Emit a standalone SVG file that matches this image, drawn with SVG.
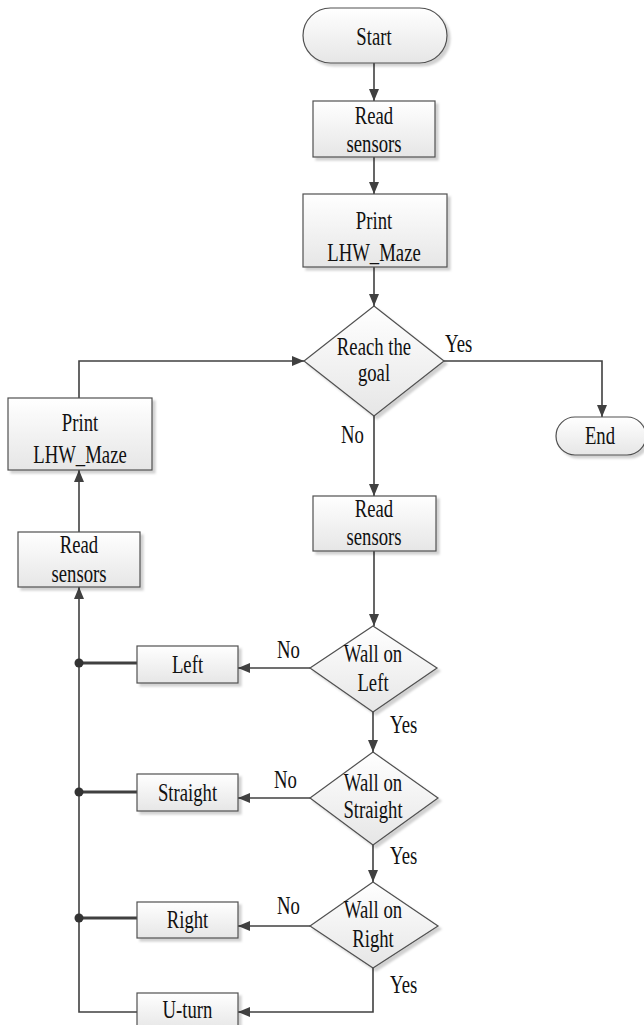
<svg xmlns="http://www.w3.org/2000/svg" width="644" height="1025" viewBox="0 0 644 1025">
<defs>
<linearGradient id="g" x1="0" y1="0" x2="0" y2="1">
<stop offset="0" stop-color="#ffffff"/>
<stop offset="1" stop-color="#e6e6e6"/>
</linearGradient>
<filter id="sh" x="-10%" y="-10%" width="130%" height="140%">
<feDropShadow dx="3" dy="3" stdDeviation="1.2" flood-color="#000" flood-opacity="0.18"/>
</filter>
<marker id="ah" markerUnits="userSpaceOnUse" markerWidth="13" markerHeight="10" refX="12" refY="5" orient="auto" viewBox="0 0 13 10">
<path d="M0,0 L12,5 L0,10 Z" fill="#404040"/>
</marker>
</defs>
<style>
.n{fill:url(#g);stroke:#505050;stroke-width:1.2;filter:url(#sh)}
.c{fill:none;stroke:#404040;stroke-width:1.6}
.a{marker-end:url(#ah)}
.t{font-family:"Liberation Serif","Times New Roman",serif;font-size:26px;fill:#111;text-anchor:middle}
.l{font-family:"Liberation Serif","Times New Roman",serif;font-size:26px;fill:#111;text-anchor:start}
.k{fill:none;stroke:#404040;stroke-width:3}
.d{fill:#333}
</style>

<g id="connectors">
<path class="c a" d="M374,63 V101"/>
<path class="c a" d="M374,157 V194"/>
<path class="c a" d="M374,267 V306"/>
<path class="c a" d="M444,361 H602 V417"/>
<path class="c a" d="M374,416 V496"/>
<path class="c a" d="M374,551 V626"/>
<path class="c a" d="M310,668 H238"/>
<path class="c a" d="M373,712 V752"/>
<path class="c a" d="M310,798 H238"/>
<path class="c a" d="M373,845 V882"/>
<path class="c a" d="M310,926 H238"/>
<path class="c a" d="M373,968 V1012 H238"/>
<path class="c a" d="M137,1012 H79 V587"/>
<path class="c a" d="M79,532 V470"/>
<path class="c a" d="M79,398 V361 H304"/>
<path class="k" d="M137,663 H79"/>
<path class="k" d="M137,792 H79"/>
<path class="k" d="M137,918 H79"/>
<circle class="d" cx="79" cy="663" r="4.5"/>
<circle class="d" cx="79" cy="792" r="4.5"/>
<circle class="d" cx="79" cy="918" r="4.5"/>
<text class="l" transform="translate(445 352) scale(.72 1)">Yes</text>
<text class="l" transform="translate(341 443) scale(.72 1)">No</text>
<text class="l" transform="translate(277 658) scale(.72 1)">No</text>
<text class="l" transform="translate(390 733) scale(.72 1)">Yes</text>
<text class="l" transform="translate(274 788) scale(.72 1)">No</text>
<text class="l" transform="translate(390 864) scale(.72 1)">Yes</text>
<text class="l" transform="translate(277 914) scale(.72 1)">No</text>
<text class="l" transform="translate(390 993) scale(.72 1)">Yes</text>
</g>

<g id="start">
<rect class="n" x="303" y="8" width="144" height="55" rx="27.5"/>
<text class="t" transform="translate(374 45) scale(.72 1)">Start</text>
</g>
<g id="read1">
<rect class="n" x="313" y="101" width="122" height="56"/>
<text class="t" transform="translate(374 124) scale(.72 1)">Read</text>
<text class="t" transform="translate(374 152) scale(.72 1)">sensors</text>
</g>
<g id="print1">
<rect class="n" x="303" y="194" width="144" height="73"/>
<text class="t" transform="translate(374 229) scale(.72 1)">Print</text>
<text class="t" transform="translate(374 261) scale(.72 1)">LHW_Maze</text>
</g>
<g id="goal">
<polygon class="n" points="374,306 444,361 374,416 304,361"/>
<text class="t" transform="translate(374 355) scale(.72 1)">Reach the</text>
<text class="t" transform="translate(374 381) scale(.72 1)">goal</text>
</g>
<g id="end">
<rect class="n" x="556" y="417" width="90" height="38" rx="19"/>
<text class="t" transform="translate(600 444) scale(.72 1)">End</text>
</g>
<g id="read2">
<rect class="n" x="313" y="496" width="123" height="55"/>
<text class="t" transform="translate(374 517) scale(.72 1)">Read</text>
<text class="t" transform="translate(374 545) scale(.72 1)">sensors</text>
</g>
<g id="wallLeft">
<polygon class="n" points="373,626 437,668 373,712 310,668"/>
<text class="t" transform="translate(373 662) scale(.72 1)">Wall on</text>
<text class="t" transform="translate(373 691) scale(.72 1)">Left</text>
</g>
<g id="wallStraight">
<polygon class="n" points="373,752 438,798 373,845 310,798"/>
<text class="t" transform="translate(373 791) scale(.72 1)">Wall on</text>
<text class="t" transform="translate(373 818) scale(.72 1)">Straight</text>
</g>
<g id="wallRight">
<polygon class="n" points="373,882 438,926 373,968 310,926"/>
<text class="t" transform="translate(373 918) scale(.72 1)">Wall on</text>
<text class="t" transform="translate(373 947) scale(.72 1)">Right</text>
</g>
<g id="left">
<rect class="n" x="137" y="646" width="101" height="37"/>
<text class="t" transform="translate(187.5 673) scale(.72 1)">Left</text>
</g>
<g id="straight">
<rect class="n" x="137" y="774" width="101" height="37"/>
<text class="t" transform="translate(187.5 801) scale(.72 1)">Straight</text>
</g>
<g id="right">
<rect class="n" x="137" y="902" width="101" height="36"/>
<text class="t" transform="translate(187.5 928) scale(.72 1)">Right</text>
</g>
<g id="uturn">
<rect class="n" x="137" y="993" width="101" height="37"/>
<text class="t" transform="translate(187.5 1018) scale(.72 1)">U-turn</text>
</g>
<g id="read3">
<rect class="n" x="18" y="532" width="122" height="55"/>
<text class="t" transform="translate(79 553) scale(.72 1)">Read</text>
<text class="t" transform="translate(79 582) scale(.72 1)">sensors</text>
</g>
<g id="print2">
<rect class="n" x="8" y="398" width="144" height="72"/>
<text class="t" transform="translate(80 431) scale(.72 1)">Print</text>
<text class="t" transform="translate(80 463) scale(.72 1)">LHW_Maze</text>
</g>
</svg>
